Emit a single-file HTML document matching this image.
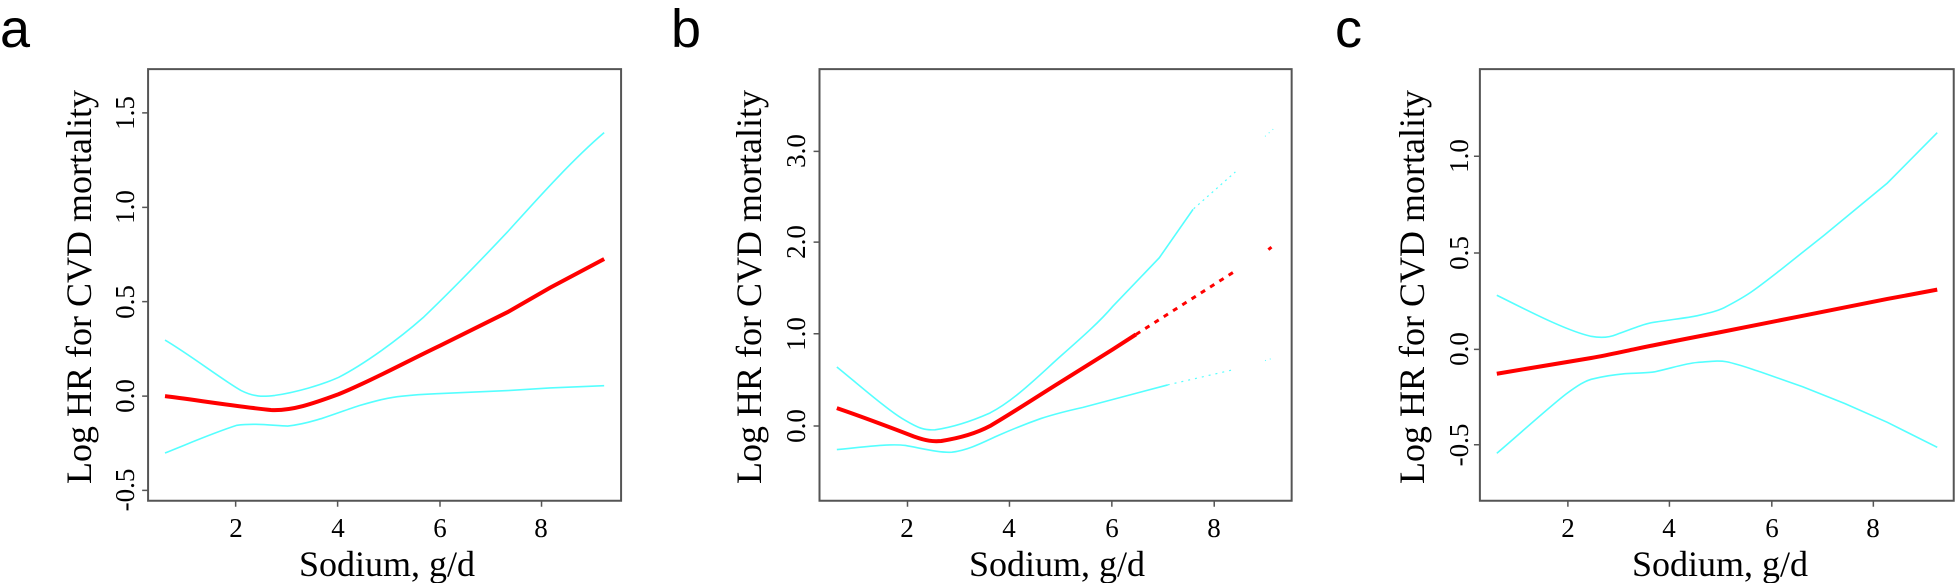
<!DOCTYPE html>
<html><head><meta charset="utf-8"><style>
html,body{margin:0;padding:0;background:#fff;}
.wrap{position:relative;width:1955px;height:583px;overflow:hidden;}
svg{position:absolute;top:0;}
.t{font-family:"Liberation Serif",serif;fill:#000;}
.L{font-family:"Liberation Sans",sans-serif;fill:#000;font-size:54px;}
</style></head><body><div class="wrap">

<!-- Panel a curves -->
<svg style="left:0px" width="660" height="583" viewBox="0 0 1560 1560" preserveAspectRatio="none">
<g fill="none">
<rect x="350" y="185" width="1118" height="1155" stroke="#555" stroke-width="2" vector-effect="non-scaling-stroke"/>
<path d="M350 1060h-14M350 807h-14M350 555h-14M350 302h-14M350 1312h-14M557 1340v16M798 1340v16M1040 1340v16M1280 1340v16" stroke="#555" stroke-width="1.5" vector-effect="non-scaling-stroke"/>
<path d="M390,910 C450,950 530,1020 570,1045 C600,1062 620,1062 650,1058 C700,1050 760,1030 800,1010 C860,975 940,910 1000,850 C1060,785 1150,680 1200,620 C1260,545 1350,430 1428,355" stroke="#5ff" stroke-width="1.6" vector-effect="non-scaling-stroke"/>
<path d="M390,1212 C440,1190 500,1160 560,1138 C600,1132 640,1138 680,1140 C720,1135 740,1126 760,1120 C800,1105 830,1092 850,1085 C890,1072 920,1063 950,1060 C990,1055 1020,1054 1040,1053 L1200,1045 L1300,1038 L1428,1032" stroke="#5ff" stroke-width="1.6" vector-effect="non-scaling-stroke"/>
<path d="M390,1060 C450,1068 560,1088 640,1097 C690,1100 740,1080 800,1055 C880,1018 960,968 1040,925 L1200,835 L1300,770 L1428,693" stroke="#f00" stroke-width="4" vector-effect="non-scaling-stroke"/>
</g></svg>

<!-- Panel b curves -->
<svg style="left:660px" width="660" height="583" viewBox="0 0 1560 1560" preserveAspectRatio="none">
<g fill="none">
<rect x="377" y="185" width="1116" height="1155" stroke="#555" stroke-width="2" vector-effect="non-scaling-stroke"/>
<path d="M377 1140h-14M377 893h-14M377 648h-14M377 405h-14M585 1340v16M826 1340v16M1068 1340v16M1310 1340v16" stroke="#555" stroke-width="1.5" vector-effect="non-scaling-stroke"/>
<path d="M418,982 C460,1020 540,1100 580,1125 C610,1145 625,1152 650,1150 C700,1142 750,1120 780,1105 C840,1070 900,1000 950,950 C1000,900 1040,860 1070,820 L1180,690 L1260,560" stroke="#5ff" stroke-width="1.6" vector-effect="non-scaling-stroke"/>
<path d="M1180,690 L1260,560 L1360,460" stroke="#5ff" stroke-width="1.2" stroke-dasharray="2 4" vector-effect="non-scaling-stroke"/>
<path d="M1430,365 L1450,345" stroke="#5ff" stroke-width="1" stroke-dasharray="1 4" vector-effect="non-scaling-stroke"/>
<path d="M418,1203 C470,1198 540,1186 580,1192 C620,1200 660,1212 690,1210 C730,1205 770,1180 800,1165 C840,1145 880,1128 900,1120 C940,1105 980,1095 1000,1090 L1100,1060 L1200,1030" stroke="#5ff" stroke-width="1.6" vector-effect="non-scaling-stroke"/>
<path d="M1200,1030 L1360,988" stroke="#5ff" stroke-width="1.2" stroke-dasharray="2 5" vector-effect="non-scaling-stroke"/>
<path d="M1430,965 L1450,958" stroke="#5ff" stroke-width="1" stroke-dasharray="1 4" vector-effect="non-scaling-stroke"/>
<path d="M418,1092 C470,1112 560,1150 600,1168 C630,1180 645,1182 665,1180 C710,1172 750,1158 780,1140 C840,1100 900,1055 950,1020 L1070,935 L1125,895" stroke="#f00" stroke-width="4" vector-effect="non-scaling-stroke"/>
<path d="M1125,895 L1360,725" stroke="#f00" stroke-width="3" stroke-dasharray="5 6" vector-effect="non-scaling-stroke"/>
<path d="M1438,668 L1452,655" stroke="#f00" stroke-width="3" stroke-dasharray="4 4" vector-effect="non-scaling-stroke"/>
</g></svg>

<!-- Panel c curves -->
<svg style="left:1295px" width="660" height="583" viewBox="0 0 1560 1560" preserveAspectRatio="none">
<g fill="none">
<rect x="437" y="185" width="1120" height="1155" stroke="#555" stroke-width="2" vector-effect="non-scaling-stroke"/>
<path d="M437 1190h-14M437 935h-14M437 677h-14M437 418h-14M645 1340v16M885 1340v16M1127 1340v16M1367 1340v16" stroke="#555" stroke-width="1.5" vector-effect="non-scaling-stroke"/>
<path d="M477,790 C540,825 640,885 700,900 C725,905 745,902 760,895 C800,878 830,865 850,862 C890,855 930,850 950,845 C985,836 1005,830 1020,820 C1045,805 1065,792 1080,780 C1105,760 1125,742 1150,720 L1250,630 L1400,490 L1518,355" stroke="#5ff" stroke-width="1.6" vector-effect="non-scaling-stroke"/>
<path d="M477,1213 C520,1172 600,1090 640,1055 C670,1030 685,1020 700,1015 C735,1005 760,1002 780,1000 C815,998 835,998 850,995 C890,985 925,972 950,970 C985,967 1000,964 1020,968 C1050,975 1080,988 1100,995 L1200,1035 L1300,1080 L1400,1130 L1518,1197" stroke="#5ff" stroke-width="1.6" vector-effect="non-scaling-stroke"/>
<path d="M477,1000 C560,985 640,970 700,958 C740,950 770,942 800,935 C880,916 940,903 1000,890 L1200,845 L1400,800 L1518,775" stroke="#f00" stroke-width="4" vector-effect="non-scaling-stroke"/>
</g></svg>

<!-- Text -->
<svg style="left:0" width="1955" height="583">
<text class="L" x="0" y="47">a</text>
<text class="L" x="671" y="47">b</text>
<text class="L" x="1335" y="47">c</text>

<g class="t" font-size="27" text-anchor="middle">
<text x="236" y="537">2</text><text x="338" y="537">4</text><text x="440" y="537">6</text><text x="541" y="537">8</text>
<text x="907" y="537">2</text><text x="1009" y="537">4</text><text x="1112" y="537">6</text><text x="1214" y="537">8</text>
<text x="1568" y="537">2</text><text x="1669" y="537">4</text><text x="1772" y="537">6</text><text x="1873" y="537">8</text>

<text transform="translate(134,113) rotate(-90)">1.5</text>
<text transform="translate(134,207) rotate(-90)">1.0</text>
<text transform="translate(134,302) rotate(-90)">0.5</text>
<text transform="translate(134,396) rotate(-90)">0.0</text>
<text transform="translate(134,490) rotate(-90)">-0.5</text>

<text transform="translate(805,151) rotate(-90)">3.0</text>
<text transform="translate(805,242) rotate(-90)">2.0</text>
<text transform="translate(805,334) rotate(-90)">1.0</text>
<text transform="translate(805,426) rotate(-90)">0.0</text>

<text transform="translate(1468,156) rotate(-90)">1.0</text>
<text transform="translate(1468,253) rotate(-90)">0.5</text>
<text transform="translate(1468,349) rotate(-90)">0.0</text>
<text transform="translate(1468,445) rotate(-90)">-0.5</text>
</g>

<g class="t" font-size="36" text-anchor="middle">
<text x="387" y="576">Sodium, g/d</text>
<text x="1057" y="576">Sodium, g/d</text>
<text x="1720" y="576">Sodium, g/d</text>
<text transform="translate(91,287) rotate(-90)">Log HR for CVD mortality</text>
<text transform="translate(761,287) rotate(-90)">Log HR for CVD mortality</text>
<text transform="translate(1424,287) rotate(-90)">Log HR for CVD mortality</text>
</g>
</svg>
</div></body></html>
